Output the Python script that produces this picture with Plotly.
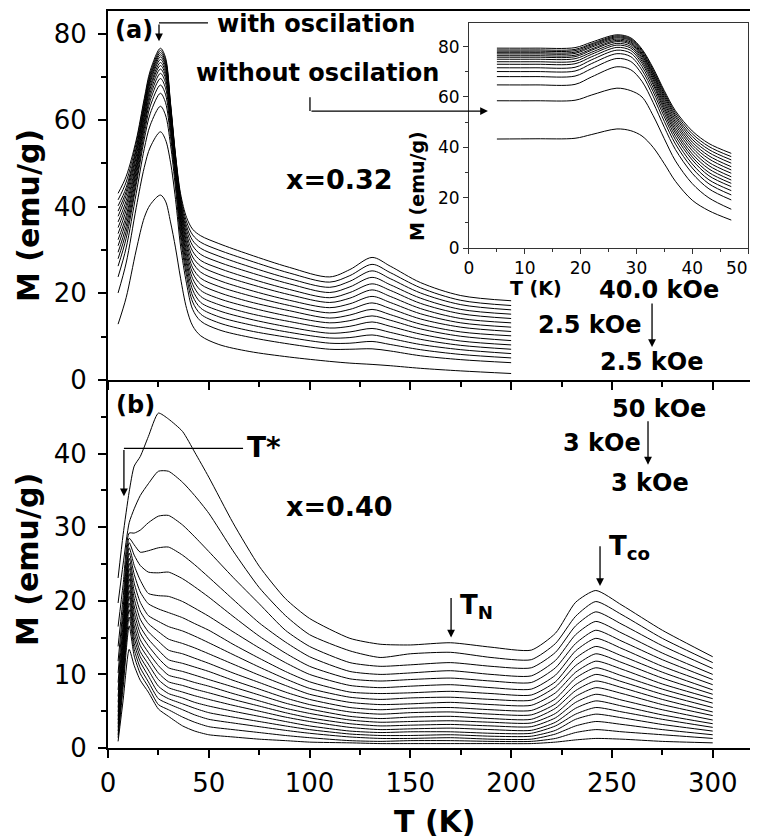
import plotly.graph_objects as go

# ---------------- Panel (a): x = 0.32, fields 40.0 kOe -> 2.5 kOe ----------------
T_a = [5, 9, 14, 18, 21, 26, 28.5, 31, 33.5, 36, 39, 42, 46, 55, 70, 90, 110, 120, 131, 140, 155, 175, 200]
fields_a = [40.0, 37.5, 35.0, 32.5, 30.0, 27.5, 25.0, 22.5, 20.0, 17.5, 15.0, 12.5, 10.0, 7.5, 5.0, 2.5]
M_a = [
    [43.1, 47.0, 55.4, 65.0, 71.5, 76.6, 74.5, 64.0, 52.0, 43.0, 37.5, 34.8, 33.3, 31.5, 29.0, 26.0, 23.8, 25.5, 28.3, 26.3, 22.5, 19.5, 18.3],
    [41.6, 45.7, 54.7, 64.4, 70.9, 76.1, 74.0, 63.7, 51.7, 42.4, 36.5, 33.5, 31.8, 30.0, 27.6, 24.7, 22.6, 24.1, 26.7, 24.8, 21.3, 18.4, 17.2],
    [40.2, 44.4, 53.7, 63.6, 70.3, 75.6, 73.5, 63.3, 51.4, 41.8, 35.5, 32.2, 30.4, 28.6, 26.2, 23.4, 21.4, 22.8, 25.2, 23.4, 20.1, 17.4, 16.2],
    [39.0, 43.5, 53.1, 63.2, 69.9, 75.1, 73.0, 62.9, 51.0, 41.2, 34.6, 31.0, 29.0, 27.2, 24.9, 22.2, 20.2, 21.5, 23.7, 22.0, 18.9, 16.3, 15.2],
    [37.8, 42.6, 52.2, 62.6, 69.3, 74.6, 72.5, 62.5, 50.7, 40.7, 33.6, 29.7, 27.6, 25.8, 23.5, 20.9, 19.0, 20.2, 22.2, 20.7, 17.7, 15.3, 14.2],
    [36.5, 41.4, 51.5, 62.0, 68.8, 74.0, 71.9, 62.1, 50.3, 40.1, 32.7, 28.4, 26.3, 24.4, 22.2, 19.7, 17.9, 18.9, 20.8, 19.3, 16.5, 14.2, 13.2],
    [35.2, 40.3, 50.4, 61.1, 68.0, 73.3, 71.2, 61.5, 49.9, 39.5, 31.7, 27.2, 24.9, 23.0, 20.8, 18.4, 16.7, 17.6, 19.3, 17.9, 15.3, 13.2, 12.2],
    [33.8, 39.2, 49.7, 60.6, 67.4, 72.6, 70.5, 61.0, 49.4, 38.7, 30.8, 25.9, 23.5, 21.6, 19.5, 17.2, 15.5, 16.3, 17.8, 16.5, 14.1, 12.2, 11.2],
    [32.4, 37.9, 48.9, 59.6, 66.5, 71.8, 69.7, 60.4, 48.9, 37.9, 29.7, 24.7, 22.1, 20.2, 18.1, 16.0, 14.3, 15.0, 16.3, 15.1, 12.9, 11.1, 10.2],
    [31.0, 36.8, 48.1, 58.9, 65.6, 70.8, 68.7, 59.6, 48.3, 37.2, 28.7, 23.4, 20.7, 18.8, 16.8, 14.7, 13.2, 13.7, 14.8, 13.8, 11.8, 10.1, 9.1],
    [29.5, 35.5, 47.1, 58.0, 64.6, 69.6, 67.5, 58.8, 47.7, 36.4, 27.6, 22.1, 19.3, 17.4, 15.4, 13.5, 12.0, 12.4, 13.4, 12.4, 10.6, 9.0, 8.1],
    [28.0, 34.2, 46.0, 56.9, 63.3, 68.1, 66.0, 57.7, 46.8, 35.4, 26.5, 20.8, 17.9, 16.0, 14.1, 12.2, 10.8, 11.1, 11.9, 11.0, 9.4, 8.0, 7.1],
    [26.3, 32.7, 45.1, 55.6, 61.6, 66.2, 64.1, 56.3, 45.8, 34.2, 25.2, 19.4, 16.6, 14.6, 12.8, 11.0, 9.7, 9.8, 10.4, 9.6, 8.2, 7.0, 6.1],
    [23.8, 30.5, 43.1, 53.4, 58.9, 63.2, 61.2, 54.4, 44.3, 32.9, 23.9, 18.0, 15.2, 13.2, 11.4, 9.8, 8.5, 8.5, 8.9, 8.2, 7.0, 5.9, 5.1],
    [20.1, 27.0, 39.8, 49.1, 53.8, 57.3, 55.5, 50.3, 41.7, 30.9, 22.2, 16.3, 13.6, 11.6, 9.9, 8.3, 7.1, 7.1, 7.2, 6.7, 5.6, 4.7, 4.0],
    [12.9, 19.0, 30.0, 37.5, 40.5, 42.7, 41.3, 36.5, 30.5, 23.5, 16.5, 12.5, 10.2, 8.2, 6.6, 5.3, 4.3, 3.9, 3.6, 3.3, 2.7, 2.1, 1.5],
]

# ---------------- Inset of (a): without oscillation ----------------
T_in = [5, 12, 19, 22, 26.5, 29, 31, 33, 35, 37, 40, 43, 47]
M_in = [
    [79.4, 79.4, 79.6, 81.8, 84.7, 83.5, 79.0, 71.5, 62.5, 54.5, 46.5, 41.5, 37.6],
    [78.7, 78.7, 78.9, 81.2, 84.3, 83.1, 78.5, 70.9, 61.8, 53.7, 45.4, 40.3, 36.3],
    [78.2, 78.2, 78.4, 80.8, 83.9, 82.7, 78.0, 70.2, 61.1, 52.8, 44.3, 39.1, 35.0],
    [77.6, 77.6, 77.8, 80.3, 83.5, 82.3, 77.4, 69.6, 60.3, 52.0, 43.2, 37.9, 33.7],
    [77.1, 77.1, 77.3, 79.8, 83.0, 81.8, 76.9, 69.0, 59.5, 51.0, 42.1, 36.6, 32.3],
    [76.4, 76.4, 76.6, 79.1, 82.5, 81.3, 76.4, 68.4, 58.6, 50.0, 41.0, 35.4, 31.0],
    [75.8, 75.8, 76.0, 78.6, 82.0, 80.8, 75.7, 67.6, 57.7, 49.0, 39.9, 34.0, 29.7],
    [75.0, 75.0, 75.2, 77.8, 81.3, 80.1, 75.0, 66.8, 56.7, 47.9, 38.7, 32.7, 28.3],
    [74.0, 74.0, 74.2, 77.0, 80.6, 79.4, 74.2, 65.8, 55.7, 46.8, 37.4, 31.4, 27.0],
    [73.0, 73.0, 73.2, 76.0, 79.7, 78.5, 73.3, 64.9, 54.7, 45.7, 36.2, 30.0, 25.7],
    [71.6, 71.6, 71.8, 74.8, 78.6, 77.4, 72.1, 63.6, 53.5, 44.4, 35.0, 28.7, 24.4],
    [70.1, 70.1, 70.3, 73.3, 77.2, 76.0, 70.7, 62.1, 52.1, 43.0, 33.4, 27.1, 22.8],
    [68.1, 68.1, 68.3, 71.3, 75.3, 74.1, 69.0, 60.3, 50.3, 41.3, 31.8, 25.5, 21.1],
    [64.8, 64.8, 65.0, 68.0, 72.0, 70.8, 66.2, 57.8, 48.0, 39.1, 29.7, 23.5, 19.1],
    [58.5, 58.5, 58.7, 60.8, 63.5, 62.5, 60.0, 52.6, 43.4, 34.6, 25.6, 19.9, 15.4],
    [43.3, 43.4, 43.6, 45.1, 47.3, 46.6, 44.5, 40.0, 33.5, 26.5, 19.0, 14.8, 11.1],
]
inset_xticks = [0, 10, 20, 30, 40, 50]

# ---------------- Panel (b): x = 0.40, fields 50 kOe -> 3 kOe ----------------
T_b = [5, 7.5, 10.5, 13, 16, 20, 25, 30, 37, 43, 50, 62, 75, 88, 100, 120, 135, 150, 170, 190, 210, 222, 232, 242, 255, 275, 300]
M_b = [
    [23.1, 29.0, 34.8, 38.3, 39.6, 42.3, 45.5, 44.7, 43.0, 40.2, 36.8, 30.6, 24.7, 20.3, 17.6, 14.9, 14.1, 14.0, 14.3, 13.7, 13.3, 15.6, 19.8, 21.4, 19.4, 16.0, 12.4],
    [19.7, 25.0, 30.6, 32.5, 34.3, 35.9, 37.6, 37.6, 36.1, 34.3, 31.9, 26.8, 21.8, 18.0, 15.4, 13.2, 12.3, 12.8, 13.0, 12.3, 12.0, 14.2, 17.9, 19.9, 18.1, 14.9, 11.6],
    [16.5, 22.2, 29.2, 29.2, 29.6, 30.6, 31.5, 31.6, 30.3, 28.7, 26.7, 23.2, 19.6, 16.0, 13.8, 11.6, 11.1, 11.3, 11.6, 11.1, 10.9, 13.0, 16.6, 18.5, 16.8, 13.9, 10.8],
    [13.8, 20.4, 28.5, 27.6, 26.6, 26.8, 27.2, 27.3, 26.2, 24.9, 23.2, 20.2, 17.0, 14.4, 12.4, 10.4, 10.0, 10.2, 10.5, 10.0, 9.8, 11.9, 15.4, 17.2, 15.6, 12.9, 10.0],
    [11.8, 19.0, 27.9, 26.2, 24.8, 23.9, 23.8, 23.9, 23.0, 21.9, 20.5, 17.9, 15.2, 12.9, 11.1, 9.4, 9.1, 9.3, 9.5, 9.1, 8.9, 10.9, 14.2, 16.0, 14.5, 12.0, 9.3],
    [10.2, 17.9, 27.2, 24.8, 22.8, 21.0, 20.7, 20.6, 19.9, 19.0, 17.9, 15.8, 13.6, 11.6, 10.0, 8.5, 8.2, 8.4, 8.6, 8.2, 8.0, 9.9, 13.2, 14.9, 13.5, 11.1, 8.6],
    [8.9, 16.8, 26.5, 23.6, 21.2, 19.6, 18.9, 18.4, 17.7, 16.9, 16.0, 14.1, 12.2, 10.4, 9.0, 7.6, 7.4, 7.5, 7.7, 7.4, 7.2, 9.0, 12.2, 13.8, 12.5, 10.3, 7.9],
    [7.9, 15.9, 25.8, 22.4, 19.8, 18.0, 17.2, 16.5, 15.9, 15.2, 14.3, 12.7, 11.0, 9.4, 8.1, 6.9, 6.6, 6.8, 6.9, 6.6, 6.5, 8.3, 11.2, 12.8, 11.6, 9.5, 7.3],
    [7.0, 15.1, 25.1, 21.3, 18.6, 16.9, 15.8, 14.8, 14.2, 13.6, 12.8, 11.4, 9.9, 8.5, 7.3, 6.2, 5.9, 6.0, 6.2, 5.9, 5.8, 7.5, 10.3, 11.8, 10.7, 8.7, 6.7],
    [6.2, 14.4, 24.4, 20.3, 17.5, 15.8, 14.5, 13.3, 12.8, 12.2, 11.5, 10.2, 8.9, 7.6, 6.6, 5.5, 5.2, 5.4, 5.5, 5.2, 5.1, 6.7, 9.5, 10.9, 9.8, 8.0, 6.1],
    [5.5, 13.7, 23.7, 19.3, 16.5, 14.8, 13.3, 12.0, 11.5, 11.0, 10.4, 9.2, 8.0, 6.8, 5.9, 4.9, 4.6, 4.8, 4.9, 4.6, 4.5, 6.0, 8.6, 10.0, 9.0, 7.3, 5.5],
    [4.9, 13.0, 23.0, 18.4, 15.6, 13.9, 12.2, 10.9, 10.4, 9.9, 9.3, 8.3, 7.2, 6.1, 5.3, 4.3, 4.0, 4.2, 4.3, 4.0, 3.9, 5.4, 7.8, 9.1, 8.2, 6.6, 4.9],
    [4.3, 12.4, 22.2, 17.5, 14.7, 13.0, 11.2, 9.9, 9.4, 8.9, 8.4, 7.4, 6.4, 5.4, 4.7, 3.8, 3.5, 3.6, 3.7, 3.5, 3.4, 4.7, 7.0, 8.2, 7.4, 5.9, 4.4],
    [3.8, 11.7, 21.4, 16.6, 13.9, 12.2, 10.2, 9.0, 8.5, 8.0, 7.5, 6.6, 5.7, 4.8, 4.1, 3.3, 3.0, 3.1, 3.2, 3.0, 2.9, 4.1, 6.2, 7.3, 6.5, 5.2, 3.8],
    [3.3, 11.1, 20.6, 15.8, 13.1, 11.4, 9.3, 8.2, 7.6, 7.1, 6.6, 5.8, 5.0, 4.2, 3.6, 2.8, 2.5, 2.6, 2.7, 2.5, 2.4, 3.5, 5.4, 6.4, 5.7, 4.5, 3.3],
    [2.8, 10.4, 19.7, 15.0, 12.4, 10.6, 8.4, 7.4, 6.8, 6.2, 5.7, 5.0, 4.3, 3.6, 3.0, 2.3, 2.1, 2.2, 2.2, 2.0, 2.0, 3.0, 4.6, 5.5, 4.9, 3.9, 2.8],
    [2.3, 9.7, 18.8, 14.2, 11.7, 9.8, 7.5, 6.7, 6.0, 5.4, 4.8, 4.2, 3.6, 3.0, 2.5, 1.9, 1.7, 1.7, 1.8, 1.6, 1.6, 2.4, 3.9, 4.6, 4.1, 3.2, 2.3],
    [1.8, 9.0, 17.8, 13.4, 10.9, 9.0, 6.7, 6.0, 5.2, 4.5, 3.9, 3.4, 2.9, 2.4, 2.0, 1.5, 1.3, 1.3, 1.4, 1.2, 1.2, 1.9, 3.0, 3.6, 3.2, 2.5, 1.8],
    [1.4, 8.2, 16.6, 12.5, 10.1, 8.3, 5.9, 5.2, 4.2, 3.5, 2.9, 2.5, 2.1, 1.7, 1.4, 1.0, 0.9, 1.0, 1.0, 0.9, 0.9, 1.3, 2.1, 2.5, 2.2, 1.8, 1.3],
    [0.9, 6.5, 13.4, 11.2, 9.2, 7.6, 5.3, 4.3, 3.0, 2.3, 1.8, 1.5, 1.2, 1.0, 0.8, 0.7, 0.6, 0.6, 0.6, 0.6, 0.6, 0.8, 1.1, 1.3, 1.2, 0.9, 0.7],
]

FONT = "DejaVu Sans"

fig = go.Figure()
for f, ys in zip(fields_a, M_a):
    fig.add_trace(go.Scatter(x=T_a, y=ys, mode="lines", name=f"{f} kOe", xaxis="x2", yaxis="y2",
                             line=dict(color="black", width=1, shape="spline", smoothing=0.9), showlegend=False))
for f, ys in zip(fields_a, M_in):
    fig.add_trace(go.Scatter(x=T_in, y=ys, mode="lines", name=f"{f} kOe", xaxis="x3", yaxis="y3",
                             line=dict(color="black", width=1, shape="spline", smoothing=0.9), showlegend=False))
for ys in M_b:
    fig.add_trace(go.Scatter(x=T_b, y=ys, mode="lines", xaxis="x", yaxis="y",
                             line=dict(color="black", width=1, shape="spline", smoothing=0.6), showlegend=False))

SPLIT = 368 / 737
XMAX = 318.5

def main_axis(**kw):
    d = dict(showgrid=False, zeroline=False, showline=True, linecolor="black", linewidth=2,
             ticks="outside", ticklen=8, tickwidth=2, tickcolor="black",
             tickfont=dict(family=FONT, size=26, color="black"))
    d.update(kw)
    return d

def inset_axis(**kw):
    d = dict(showgrid=False, zeroline=False, showline=True, linecolor="#333", linewidth=1, mirror=True,
             ticks="outside", ticklen=5, tickwidth=1, tickcolor="#333",
             tickfont=dict(family=FONT, size=17, color="black"))
    d.update(kw)
    return d

fig.update_layout(
    width=750, height=838, autosize=False,
    margin=dict(l=108, r=0, t=11, b=90),
    paper_bgcolor="white", plot_bgcolor="white",
    font=dict(family=FONT, color="black"),
    xaxis=main_axis(domain=[0, 1], anchor="y", range=[0, XMAX], tick0=0, dtick=50,
                    minor=dict(dtick=25, ticks="outside", ticklen=5, tickwidth=2, tickcolor="black"),
                    ticklabelstandoff=3),
    yaxis=main_axis(domain=[0, SPLIT], anchor="x", range=[0, 50], tickmode="array",
                    tickvals=[0, 10, 20, 30, 40],
                    minor=dict(tickmode="array", tickvals=[5, 15, 25, 35, 45], ticks="outside",
                               ticklen=5, tickwidth=2, tickcolor="black"),
                    ticklabelstandoff=6),
    xaxis2=main_axis(domain=[0, 1], anchor="y2", range=[0, XMAX], tick0=0, dtick=50, showticklabels=False,
                     mirror=True,
                     minor=dict(dtick=25, ticks="outside", ticklen=5, tickwidth=2, tickcolor="black")),
    yaxis2=main_axis(domain=[SPLIT, 1], anchor="x2", range=[0, 85.2], tick0=0, dtick=20,
                     minor=dict(dtick=10, ticks="outside", ticklen=5, tickwidth=2, tickcolor="black"),
                     ticklabelstandoff=6),
    xaxis3=inset_axis(domain=[0.5623, 0.9969], anchor="y3", range=[0, 50], tickmode="array",
                      tickvals=inset_xticks, ticktext=[str(v) for v in inset_xticks[:-1]] + [""],
                      minor=dict(tickmode="array", tickvals=[5, 15, 25, 35, 45], ticks="outside",
                                 ticklen=3, tickwidth=1, tickcolor="#333")),
    yaxis3=inset_axis(domain=[0.6784, 0.9841], anchor="x3", range=[0, 89.5], tick0=0, dtick=20,
                      minor=dict(dtick=10, ticks="outside", ticklen=3, tickwidth=1, tickcolor="#333")),
)

def txt(text, x, y, xref, yref, size=24, xanchor="center", angle=0):
    return dict(text=text, x=x, y=y, xref=xref, yref=yref, showarrow=False, xanchor=xanchor, yanchor="middle",
                textangle=angle, font=dict(family=FONT, size=size, color="black"))

def arrow(x, y, ax, ay, xref, yref):
    return dict(text="", x=x, y=y, ax=ax, ay=ay, xref=xref, yref=yref, axref=xref, ayref=yref,
                showarrow=True, arrowhead=2, arrowsize=1.2, arrowwidth=1.3, arrowcolor="black")

B = lambda s: f"<b>{s}</b>"
ann = [
    # axis titles
    txt(B("T (K)"), 0.5086, -0.1004, "paper", "paper", size=30),
    txt(B("M (emu/g)"), -0.1246, 0.7218, "paper", "paper", size=30, angle=-90),
    txt(B("M (emu/g)"), -0.1246, 0.2551, "paper", "paper", size=30, angle=-90),
    # panel (a)
    txt(B("(a)"), 12.9, 80.8, "x2", "y2"),
    txt(B("with oscilation"), 103.2, 82.2, "x2", "y2"),
    txt(B("without oscilation"), 103.7, 70.8, "x2", "y2"),
    txt(B("x=0.32"), 114.6, 46.2, "x2", "y2", size=27),
    txt(B("40.0 kOe"), 273.4, 20.7, "x2", "y2"),
    txt(B("2.5 kOe"), 239.2, 12.7, "x2", "y2"),
    txt(B("2.5 kOe"), 269.7, 4.15, "x2", "y2"),
    arrow(25.3, 78.2, 25.3, 82.45, "x2", "y2"),
    arrow(188.5, 62.1, 100.2, 62.1, "x2", "y2"),
    arrow(269.9, 7.6, 269.9, 18.0, "x2", "y2"),
    # inset titles and last inset tick label (kept inside the page)
    txt(B("M (emu/g)"), 0.4813, 0.7626, "paper", "paper", size=19, angle=-90),
    txt(B("T (K)"), 0.6667, 0.6235, "paper", "paper", size=19),
    dict(text=str(inset_xticks[-1]), x=inset_xticks[-1], y=0.6513, xref="x3", yref="paper",
         xanchor="right", yanchor="middle", xshift=2, showarrow=False,
         font=dict(family=FONT, size=17, color="black")),
    # panel (b)
    txt(B("(b)"), 13.4, 46.6, "x", "y"),
    txt(B("T*"), 77.4, 40.8, "x", "y", size=28),
    txt(B("x=0.40"), 114.6, 32.8, "x", "y", size=27),
    txt(B("50 kOe"), 273.4, 46.0, "x", "y"),
    txt(B("3 kOe"), 244.9, 41.5, "x", "y"),
    txt(B("3 kOe"), 268.9, 36.0, "x", "y"),
    txt(B("T<sub>co</sub>"), 247.6, 27.3, "x", "y", size=26, xanchor="left"),
    txt(B("T<sub>N</sub>"), 173.7, 19.2, "x", "y", size=26, xanchor="left"),
    arrow(7.9, 34.2, 7.9, 40.7, "x", "y"),
    arrow(267.9, 38.5, 267.9, 44.6, "x", "y"),
    arrow(244.1, 22.0, 244.1, 27.6, "x", "y"),
    arrow(170.2, 15.0, 170.2, 20.6, "x", "y"),
]
fig.update_layout(annotations=ann)

shapes = [
    dict(type="line", x0=25.3, y0=82.45, x1=49.6, y1=82.45, xref="x2", yref="y2", line=dict(color="black", width=1.3)),
    dict(type="line", x0=100.2, y0=65.3, x1=100.2, y1=62.1, xref="x2", yref="y2", line=dict(color="black", width=1.3)),
    dict(type="line", x0=7.9, y0=40.7, x1=67.0, y1=40.7, xref="x", yref="y", line=dict(color="black", width=1.3)),
]
fig.update_layout(shapes=shapes)

fig.write_html("out.html")
